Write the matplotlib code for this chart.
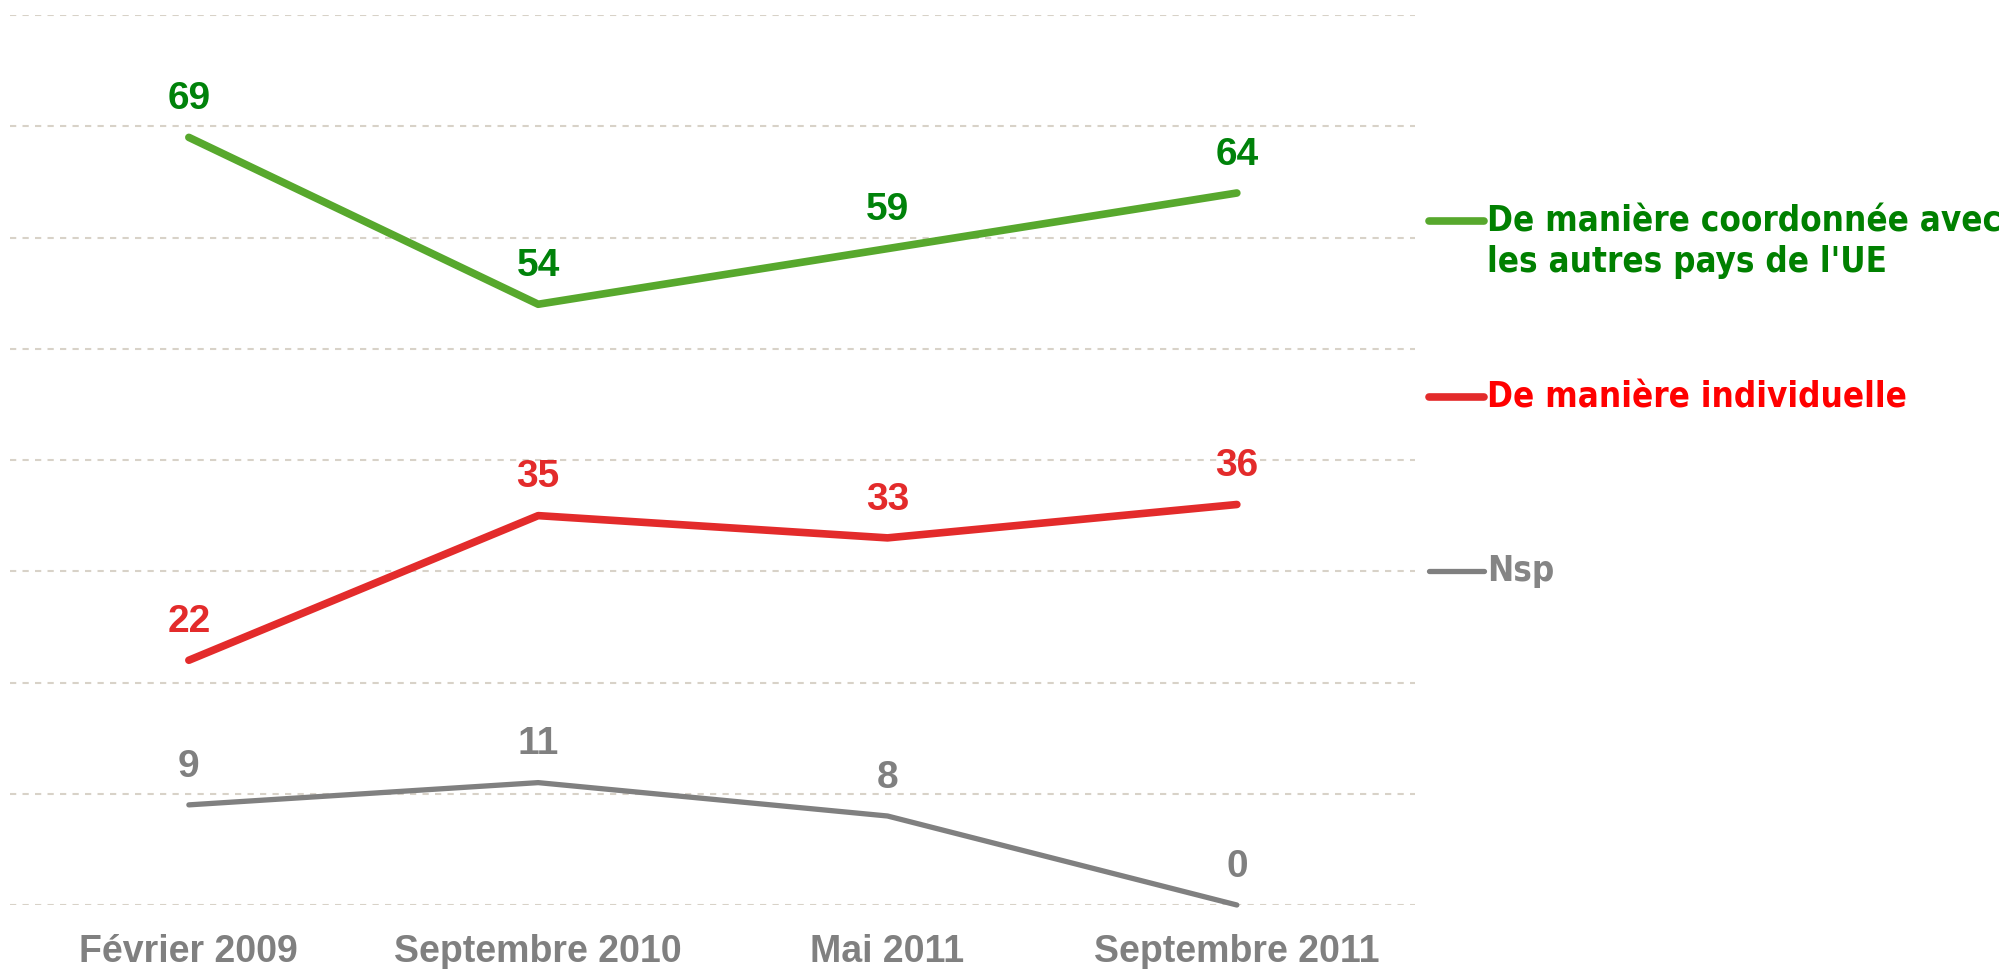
import matplotlib
matplotlib.use("Agg")
import matplotlib.pyplot as plt
from matplotlib.lines import Line2D

categories = ["Février 2009", "Septembre 2010", "Mai 2011", "Septembre 2011"]
coordonnee = [69, 54, 59, 64]
individuelle = [22, 35, 33, 36]
nsp = [9, 11, 8, 0]
legend_labels = ["De manière coordonnée avec\nles autres pays de l'UE",
                 "De manière individuelle", "Nsp"]

line_colors = ["#57A82D", "#E32B2B", "#808080"]
label_colors = ["#00820A", "#E32B2B", "#808080"]
legend_text_colors = ["#008000", "#FF0000", "#858585"]
widths = [5.5, 5.5, 3.8]

fig = plt.figure(figsize=(20.02, 9.69), dpi=100)
ax = fig.add_axes([10/2002, (969-905)/969, (1415-10)/2002, (905-15)/969])

x = list(range(len(categories)))
series = [coordonnee, individuelle, nsp]
for vals, lc, tc, lw in zip(series, line_colors, label_colors, widths):
    ax.plot(x, vals, color=lc, lw=lw, solid_capstyle="round",
            solid_joinstyle="round", zorder=3, clip_on=False)
    for xi, v in zip(x, vals):
        ax.annotate(str(v), (xi, v), xytext=(0, 27.5), textcoords="offset points",
                    ha="center", va="center", fontsize=28, fontweight="bold",
                    color=tc, family="Liberation Sans", zorder=4)

ax.set_xlim(-0.512, 3.51)
ax.set_ylim(0, 80)
ax.set_yticks(range(0, 81, 10))
ax.yaxis.grid(True, color="#D8D2C8", lw=1.5, dashes=(3, 3))
ax.set_axisbelow(True)
ax.tick_params(axis="y", left=False, labelleft=False)
ax.set_xticks(x)
ax.set_xticklabels(categories, fontsize=27, fontweight="bold", color="#808080",
                   family="Liberation Sans")
ax.tick_params(axis="x", length=0, pad=21)
for s in ax.spines.values():
    s.set_visible(False)

# legend entries
leg_y = [221, 397, 571]
for yy, lab, lc, tc, lw in zip(leg_y, legend_labels, line_colors, legend_text_colors, widths):
    yf = 1 - yy/969
    fig.add_artist(Line2D([1429/2002, 1484/2002], [yf, yf], color=lc, lw=lw,
                          solid_capstyle="round", transform=fig.transFigure))
    lines = lab.split("\n")
    for i, t in enumerate(lines):
        fig.text(1487/2002, 1 - (yy + i*41)/969, t, ha="left", va="center",
                 fontsize=25, fontweight="bold", color=tc,
                 family="DejaVu Sans", fontstretch="condensed")

fig.savefig("out.png", dpi=100, facecolor="white")
